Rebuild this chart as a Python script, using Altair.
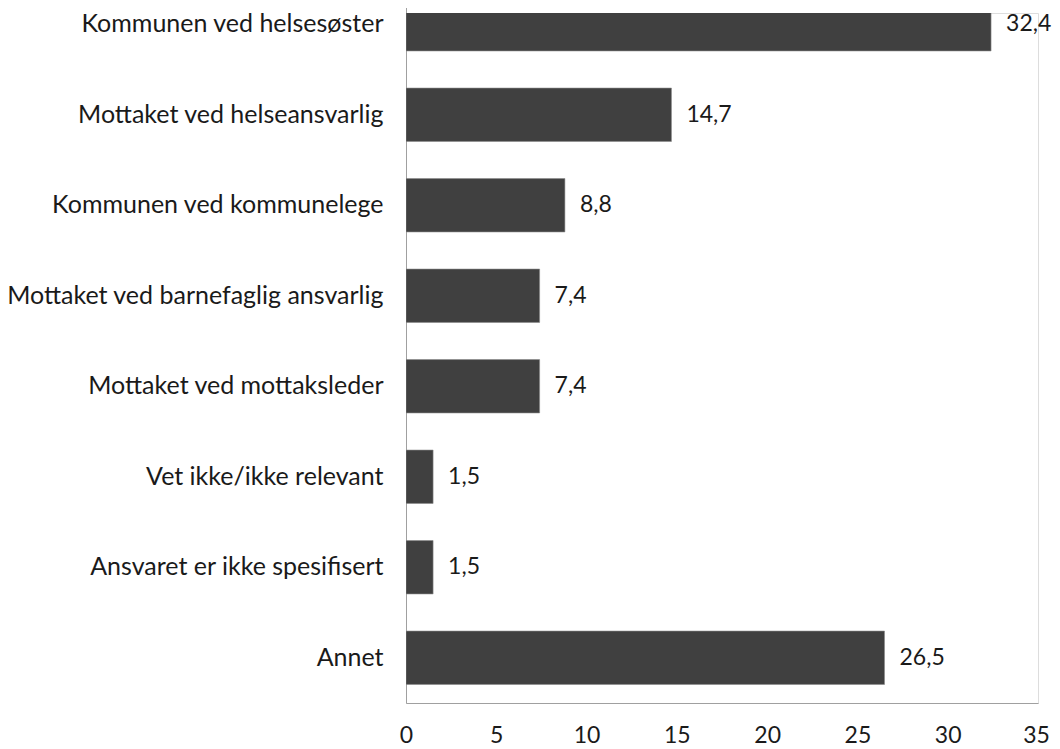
import altair as alt
import pandas as pd

categories = [
    "Kommunen ved helsesøster",
    "Mottaket ved helseansvarlig",
    "Kommunen ved kommunelege",
    "Mottaket ved barnefaglig ansvarlig",
    "Mottaket ved mottaksleder",
    "Vet ikke/ikke relevant",
    "Ansvaret er ikke spesifisert",
    "Annet",
]
values = [32.4, 14.7, 8.8, 7.4, 7.4, 1.5, 1.5, 26.5]
x_ticks = [0, 5, 10, 15, 20, 25, 30, 35]

df = pd.DataFrame({"cat": categories, "val": values})
df["lbl"] = [f"{v:.1f}".replace(".", ",") for v in values]

FONT = "Lato"

yscale = alt.Scale(domain=categories, range=[-34, 690], paddingInner=0.41, paddingOuter=0.205)
xscale = alt.Scale(domain=[0, 35], nice=False)

base = alt.Chart(df)

bars = base.mark_bar(color="#404040", stroke="#8a8a8a", strokeWidth=0.6, clip=True).encode(
    y=alt.Y("cat:N", scale=yscale, sort=None, title=None,
            axis=alt.Axis(ticks=False, domainColor="#a0a0a0", labelPadding=23,
                          labelFontSize=25, labelColor="#1a1a1a", labelFont=FONT,
                          labelLimit=500)),
    x=alt.X("val:Q", scale=xscale, title=None,
            axis=alt.Axis(values=x_ticks, ticks=False, grid=False, domainColor="#a0a0a0",
                          labelPadding=21, labelFontSize=23, labelColor="#1a1a1a",
                          labelFont=FONT, labelFlush=False,
                          labelOffset=alt.ExprRef("datum.value == 35 ? -2 : 0"))),
)

text = base.mark_text(align="left", baseline="middle", dx=15, fontSize=23,
                      font=FONT, color="#1a1a1a").encode(
    y=alt.Y("cat:N", scale=yscale, sort=None),
    x=alt.X("val:Q", scale=xscale),
    text="lbl:N",
)

chart = (bars + text).properties(
    width=632, height=690,
    autosize=alt.AutoSizeParams(type="none"),
    padding={"left": 398, "top": 5, "right": 14, "bottom": 44},
).configure_view(stroke=None).configure(background="white")

chart.save("out.html", embed_options={"renderer": "svg", "actions": False})
